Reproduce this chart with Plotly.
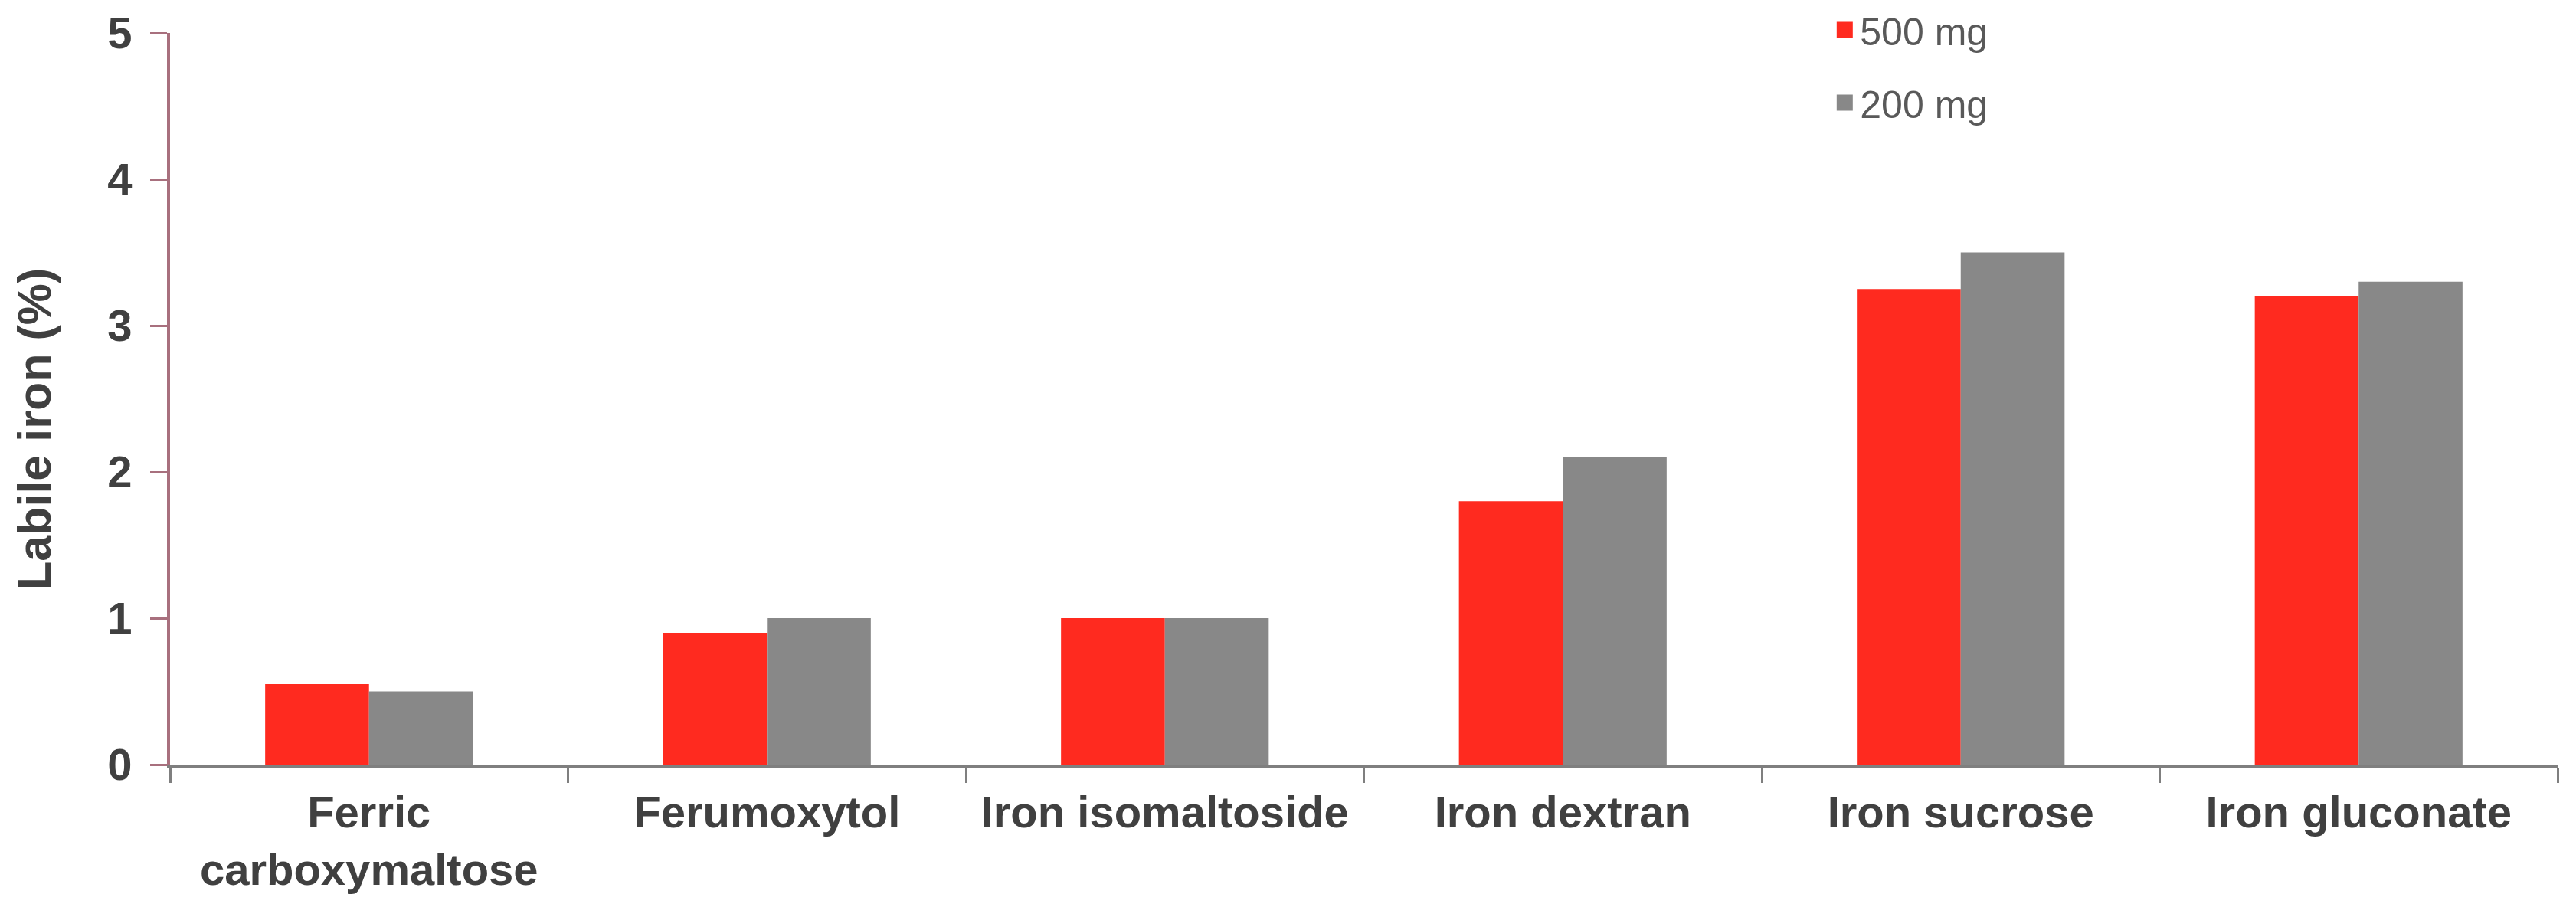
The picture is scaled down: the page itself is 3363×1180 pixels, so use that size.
import plotly.graph_objects as go

# Data
categories = ["Ferric<br>carboxymaltose", "Ferumoxytol", "Iron isomaltoside",
              "Iron dextran", "Iron sucrose", "Iron gluconate"]
dose_500mg = [0.55, 0.9, 1.0, 1.8, 3.25, 3.2]
dose_200mg = [0.5, 1.0, 1.0, 2.1, 3.5, 3.3]
series_names = ["500 mg", "200 mg"]
series_colours = ["#FF2A1F", "#888888"]
y_ticks = [0, 1, 2, 3, 4, 5]

font_family = "Liberation Sans, Arial, sans-serif"
text_colour = "#404040"

fig = go.Figure()
for name, values, colour in zip(series_names, [dose_500mg, dose_200mg], series_colours):
    fig.add_trace(go.Bar(x=categories, y=values, name=name, showlegend=False,
                         marker=dict(color=colour, line_width=0)))

# legend entries with bigger square swatches
for i, (name, colour) in enumerate(zip(series_names, series_colours)):
    fig.add_trace(go.Scatter(x=[None], y=[None], mode="markers", name=name,
                             legendgroup=f"g{i}",
                             marker=dict(symbol="square", size=16, color=colour,
                                         line=dict(color=colour, width=5))))

# page body keeps its default 8px margin, so the figure is 16px smaller
fig.update_layout(
    width=3355, height=1172,
    margin=dict(l=214, r=24, t=35, b=182, autoexpand=False),
    paper_bgcolor="white",
    plot_bgcolor="white",
    barmode="group",
    bargap=0.478,
    bargroupgap=0,
    showlegend=True,
    legend=dict(x=0.695, y=1.045, xanchor="left", yanchor="top",
                font=dict(family=font_family, size=50, color="#595959"),
                tracegroupgap=27, itemwidth=30, bgcolor="rgba(0,0,0,0)"),
    font=dict(family=font_family),
)

fig.update_xaxes(
    showline=True, linecolor="#7F7F7F", linewidth=4,
    ticks="outside", tickson="boundaries", ticklen=20, tickwidth=3, tickcolor="#7F7F7F",
    tickfont=dict(family=font_family, size=58, color=text_colour, weight="bold"),
    ticklabelstandoff=8,
    showgrid=False, zeroline=False,
)
fig.update_yaxes(
    range=[0, 5], tickvals=y_ticks,
    showline=True, linecolor="#A8707E", linewidth=4,
    ticks="outside", ticklen=22, tickwidth=3, tickcolor="#A8707E",
    tickfont=dict(family=font_family, size=58, color=text_colour, weight="bold"),
    ticklabelstandoff=12,
    showgrid=False, zeroline=False,
)

# Y-axis title placed as annotation to match its off-centre position
fig.add_annotation(
    text="Labile iron (%)", textangle=-90,
    x=-0.0568, y=0.4586, xref="paper", yref="paper",
    xanchor="center", yanchor="middle", showarrow=False,
    font=dict(family=font_family, size=61, color=text_colour, weight="bold"),
)

fig.write_html("out.html")
